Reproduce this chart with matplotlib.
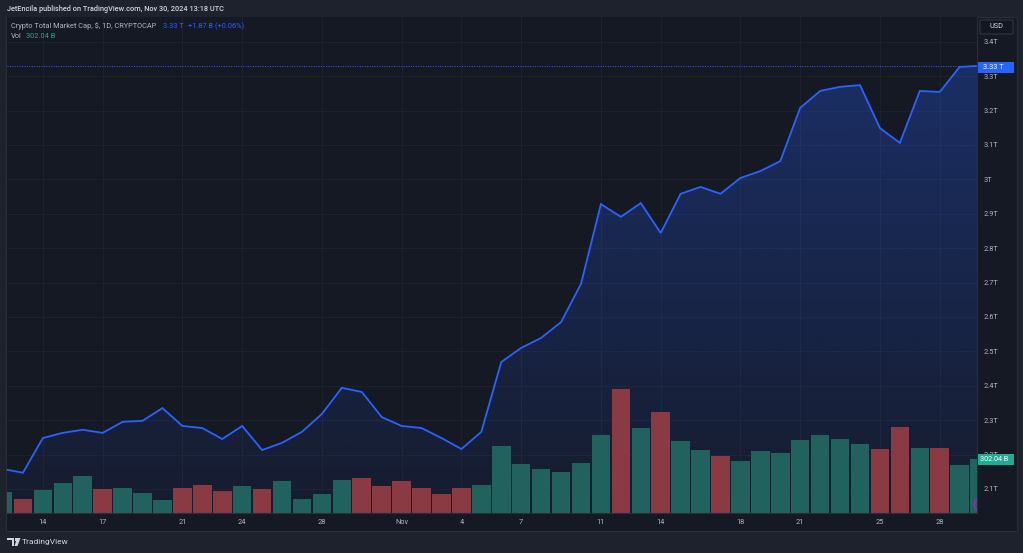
import numpy as np
import pandas as pd
import matplotlib
matplotlib.use("Agg")
import matplotlib.pyplot as plt
import matplotlib.dates as mdates
from matplotlib.patches import Rectangle, FancyBboxPatch, Polygon
from matplotlib.ticker import FixedLocator, FuncFormatter

# daily data, Oct 12 .. Nov 30 2024
dates = pd.date_range("2024-10-12", "2024-11-30", freq="D")
cap_trillions = [
    2.158, 2.147, 2.248, 2.263, 2.272, 2.263, 2.295, 2.298, 2.335, 2.283,
    2.277, 2.245, 2.283, 2.213, 2.234, 2.266, 2.318, 2.394, 2.382, 2.309,
    2.283, 2.277, 2.248, 2.216, 2.266, 2.469, 2.510, 2.539, 2.585, 2.696,
    2.928, 2.891, 2.931, 2.844, 2.958, 2.978, 2.958, 3.004, 3.024, 3.053,
    3.208, 3.257, 3.269, 3.274, 3.149, 3.106, 3.257, 3.254, 3.327, 3.330,
]
vol_billions = [
    117, 78, 129, 168, 207, 134, 140, 112, 73, 140,
    157, 123, 151, 134, 179, 78, 106, 184, 196, 151,
    179, 140, 106, 140, 157, 375, 274, 246, 229, 280,
    436, 693, 475, 565, 403, 352, 319, 291, 347, 335,
    408, 436, 414, 386, 358, 481, 363, 363, 268, 302.04,
]
vol_up = [
    1, 0, 1, 1, 1, 0, 1, 1, 1, 0,
    0, 0, 1, 0, 1, 1, 1, 1, 0, 0,
    0, 0, 0, 0, 1, 1, 1, 1, 1, 1,
    1, 0, 1, 0, 1, 1, 0, 1, 1, 1,
    1, 1, 1, 1, 0, 0, 1, 0, 1, 1,
]
tick_days = ["2024-10-14", "2024-10-17", "2024-10-21", "2024-10-24", "2024-10-28",
             "2024-11-01", "2024-11-04", "2024-11-07", "2024-11-11", "2024-11-14",
             "2024-11-18", "2024-11-21", "2024-11-25", "2024-11-28"]
price_ticks = [2.1, 2.2, 2.3, 2.4, 2.5, 2.6, 2.7, 2.8, 2.9, 3.0, 3.1, 3.2, 3.3, 3.4]
last_price = 3.33
last_vol = 302.04

OUTER = "#1e222d"
BG = "#151924"
BORDER = "#2a2e39"
GRID = "#1f2330"
TXT = "#b2b5be"
BLUE = "#2962ff"
TEAL_TXT = "#22ab94"
UP = "#22625e"
DOWN = "#8a3a43"
FONT = "Roboto"
FS = 5.35

W, H = 1023, 553
fig = plt.figure(figsize=(W / 100, H / 100), dpi=100, facecolor=OUTER)


def fx(px):
    return px / W


def fy(py):
    return 1 - py / H


# chart frame
fig.patches.append(Rectangle((fx(6), fy(531)), fx(1011), (531 - 17) / H,
                             transform=fig.transFigure, facecolor=BG,
                             edgecolor=BORDER, lw=0.8, zorder=-10))

pos = [fx(7), fy(513), fx(970), (513 - 17) / H]
ax = fig.add_axes(pos)
ax_vol = fig.add_axes(pos, sharex=ax)
ax.set_facecolor(BG)
ax_vol.patch.set_visible(False)

x = mdates.date2num(dates)
x0 = x[0]

# grid
tick_x = mdates.date2num(pd.to_datetime(tick_days))
ax.xaxis.set_major_locator(FixedLocator(tick_x))
ax.yaxis.set_major_locator(FixedLocator(price_ticks))
ax.grid(True, color=GRID, lw=0.6)
ax.set_axisbelow(True)

# gradient area under the line
fill = ax.fill_between(x, cap_trillions, 2.0, facecolor="none", lw=0)
n = 256
grad = np.zeros((n, 1, 4))
grad[:, 0, 0] = 41 / 255
grad[:, 0, 1] = 98 / 255
grad[:, 0, 2] = 1.0
grad[:, 0, 3] = np.linspace(0.30, 0.04, n)
im = ax.imshow(grad, extent=[x[0], x[-1], 2.0, 3.35], aspect="auto",
               origin="upper", zorder=1, interpolation="bilinear")
im.set_clip_path(fill.get_paths()[0], transform=ax.transData)

ax.plot(x, cap_trillions, color=BLUE, lw=1.3, zorder=3, solid_joinstyle="miter")
ax.axhline(last_price, color=BLUE, lw=0.7, ls=(0, (1, 1.5)), zorder=2)
ax.set_xlim(x0 + 0.2, x0 + 48.87)
ax.set_ylim(2.030, 3.472)

# volume bars (overlay pane)
bar_colors = [UP if u else DOWN for u in vol_up]
ax_vol.bar(x, vol_billions, width=0.93, color=bar_colors, lw=0, zorder=2)
ax_vol.set_yticks([])
ax_vol.set_ylim(0, 2773)
ax_vol.scatter([x[-1]], [45], s=60, facecolor="none", edgecolor="#9c27b0",
               lw=1.1, zorder=4)

# axes styling
for a in (ax, ax_vol):
    for s in a.spines.values():
        s.set_visible(False)
ax_vol.spines["right"].set_visible(True)
ax_vol.spines["right"].set_color(BORDER)
ax_vol.spines["bottom"].set_visible(True)
ax_vol.spines["bottom"].set_color(BORDER)
ax.yaxis.tick_right()
ax.tick_params(axis="both", length=0, colors=TXT, labelsize=FS)
ax.tick_params(axis="y", pad=4.5)
ax.tick_params(axis="x", pad=4.5)
ax_vol.tick_params(axis="both", length=0, labelbottom=False, labelleft=False)
ax.yaxis.set_major_formatter(FuncFormatter(lambda v, p: f"{v:g}T"))


def date_fmt(v, p):
    d = mdates.num2date(v)
    return d.strftime("%b") if d.day == 1 else str(d.day)


ax.xaxis.set_major_formatter(FuncFormatter(date_fmt))
for lab in ax.get_xticklabels() + ax.get_yticklabels():
    lab.set_fontfamily(FONT)
ax.yaxis.set_tick_params(labelleft=False, labelright=True)
ax.xaxis.set_tick_params(labelbottom=True)

# right-axis value labels
fig.patches.append(Rectangle((fx(978), fy(72.5)), fx(36), 10.5 / H,
                             transform=fig.transFigure, facecolor=BLUE,
                             edgecolor="none", zorder=5))
fig.text(fx(983), fy(67.5), f"{last_price:.2f} T", color="white", fontsize=FS,
         fontfamily=FONT, va="center", ha="left", zorder=6)
fig.patches.append(Rectangle((fx(978), fy(464.5)), fx(36), 10.5 / H,
                             transform=fig.transFigure, facecolor=TEAL_TXT,
                             edgecolor="none", zorder=5))
fig.text(fx(980.5), fy(459.5), f"{last_vol:.2f} B", color="white", fontsize=5.2,
         fontfamily=FONT, va="center", ha="left", zorder=6)

# USD box
fig.patches.append(FancyBboxPatch((fx(980), fy(34)), fx(33), 14 / H,
                                  boxstyle="round,pad=0,rounding_size=0.002",
                                  transform=fig.transFigure, facecolor="#131722",
                                  edgecolor="#363a45", lw=0.7, zorder=5))
fig.text(fx(996.5), fy(27), "USD", color="#d1d4dc", fontsize=FS,
         fontfamily=FONT, ha="center", va="center", zorder=6)

# header texts
fig.text(fx(7), fy(9), "JetEncila published on TradingView.com, Nov 30, 2024 13:18 UTC",
         color="#d1d4dc", fontsize=FS, fontfamily=FONT, fontweight="medium",
         va="center")
fig.text(fx(11), fy(26), "Crypto Total Market Cap, $, 1D, CRYPTOCAP",
         color=TXT, fontsize=FS, fontfamily=FONT, va="center")
fig.text(fx(163), fy(26), f"{last_price:.2f} T", color=BLUE, fontsize=FS,
         fontfamily=FONT, va="center")
fig.text(fx(188), fy(26), "+1.87 B (+0.06%)", color=BLUE, fontsize=FS,
         fontfamily=FONT, va="center")
fig.text(fx(11), fy(36.5), "Vol", color=TXT, fontsize=FS, fontfamily=FONT,
         va="center")
fig.text(fx(26), fy(36.5), f"{last_vol:.2f} B", color=TEAL_TXT, fontsize=FS,
         fontfamily=FONT, va="center")

# TradingView logo
logo = [
    [(7, 538), (14, 538), (14, 546), (12, 546), (12, 540), (7, 540)],
    [(17, 538), (20.5, 538), (17.5, 546), (14.5, 546)],
]
for shape in logo:
    fig.patches.append(Polygon([(fx(a), fy(b)) for a, b in shape], closed=True,
                               transform=fig.transFigure, facecolor="#d1d4dc",
                               edgecolor="none"))
fig.patches.append(Rectangle((fx(14.6), fy(540.6)), fx(2.2), 2.2 / H,
                             transform=fig.transFigure, facecolor="#d1d4dc",
                             edgecolor="none"))
fig.text(fx(21.5), fy(542), "TradingView", color="#d1d4dc", fontsize=6.0,
         fontfamily=FONT, va="center")

fig.savefig("out.png", dpi=100, facecolor=OUTER)
